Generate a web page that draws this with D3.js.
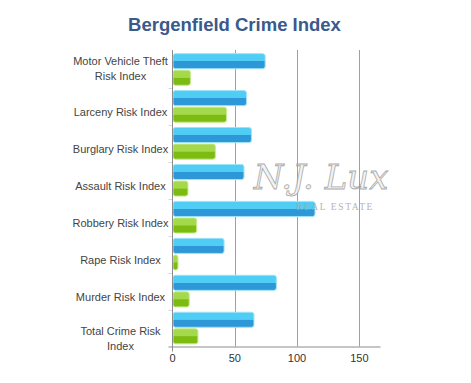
<!DOCTYPE html>
<html>
<head>
<meta charset="utf-8">
<script src="https://cdn.jsdelivr.net/npm/d3@7"></script>
<style>
  html, body { margin: 0; padding: 0; background: #fff; }
  svg { display: block; font-family: "Liberation Sans", Arial, sans-serif; }
</style>
</head>
<body>
<svg id="chart" width="471" height="383"></svg>
<script>
const title = "Bergenfield Crime Index";
const categories = [
  "Motor Vehicle Theft Risk Index",
  "Larceny Risk Index",
  "Burglary Risk Index",
  "Assault Risk Index",
  "Robbery Risk Index",
  "Rape Risk Index",
  "Murder Risk Index",
  "Total Crime Risk Index"
];
const seriesNames = ["Bergenfield", "National"];
const bergenfield = [74, 59, 63, 57, 114, 41, 83, 65];
const national = [14, 43, 34, 12, 19, 4, 13, 20];
const xTicks = [0, 50, 100, 150];
const xMax = 167;

const svg = d3.select("#chart");
const plot = { left: 172.5, right: 380.5, top: 51, bottom: 346.5 };

const x = d3.scaleLinear().domain([0, xMax]).range([plot.left, plot.right]);
const y = d3.scaleBand().domain(categories).range([plot.top, plot.bottom]);
const sub = d3.scaleBand().domain(seriesNames).range([0, y.bandwidth()])
  .paddingInner(0.09).paddingOuter(0.16);

// gradients
const defs = svg.append("defs");
function grad(id, top, bottom) {
  const g = defs.append("linearGradient").attr("id", id)
    .attr("x1", 0).attr("y1", 0).attr("x2", 0).attr("y2", 1);
  g.append("stop").attr("offset", "0%").attr("stop-color", top);
  g.append("stop").attr("offset", "48%").attr("stop-color", top);
  g.append("stop").attr("offset", "52%").attr("stop-color", bottom);
  g.append("stop").attr("offset", "100%").attr("stop-color", bottom);
}
grad("gBlue", "#50cdf4", "#2e97d8");
grad("gGreen", "#a5d94c", "#7cbb10");

// title
svg.append("text")
  .attr("x", 234.5).attr("y", 30.5)
  .attr("text-anchor", "middle")
  .attr("font-size", 18.5).attr("font-weight", "bold")
  .attr("fill", "#3a5a8b")
  .text(title);

// gridlines
svg.append("g").selectAll("line").data(xTicks.filter(d => d > 0)).join("line")
  .attr("x1", d => Math.round(x(d)) + 0.5).attr("x2", d => Math.round(x(d)) + 0.5)
  .attr("y1", plot.top - 1).attr("y2", plot.bottom)
  .attr("stroke", "#a0a0a0").attr("stroke-width", 1);

// y-axis small ticks at band boundaries
svg.append("g").selectAll("line").data(categories.slice(1)).join("line")
  .attr("x1", plot.left - 4).attr("x2", plot.left)
  .attr("y1", d => Math.round(y(d)) + 0.5).attr("y2", d => Math.round(y(d)) + 0.5)
  .attr("stroke", "#d8d8d8");

// bars
const series = [
  { name: seriesNames[0], values: bergenfield, fill: "url(#gBlue)", stroke: "#9fe3f9" },
  { name: seriesNames[1], values: national, fill: "url(#gGreen)", stroke: "#c6ea8c" }
];
const groups = svg.append("g").selectAll("g").data(categories).join("g")
  .attr("transform", d => `translate(0,${y(d)})`);
series.forEach(s => {
  groups.append("rect")
    .attr("x", x(0) + 0.5)
    .attr("y", (d, i) => sub(s.name))
    .attr("width", (d, i) => Math.max(0, x(s.values[i]) - x(0)))
    .attr("height", sub.bandwidth())
    .attr("rx", 2.5).attr("ry", 2.5)
    .attr("fill", s.fill)
    .attr("stroke", s.stroke).attr("stroke-width", 1);
});

// axes lines
svg.append("line")
  .attr("x1", plot.left).attr("x2", plot.left)
  .attr("y1", plot.top - 1).attr("y2", plot.bottom + 5)
  .attr("stroke", "#8c8c8c");
svg.append("line")
  .attr("x1", plot.left - 4).attr("x2", plot.right)
  .attr("y1", plot.bottom + 0.5).attr("y2", plot.bottom + 0.5)
  .attr("stroke", "#8c8c8c");

// x tick labels
svg.append("g").selectAll("text").data(xTicks).join("text")
  .attr("x", d => x(d)).attr("y", plot.bottom + 15)
  .attr("text-anchor", "middle")
  .attr("font-size", 11).attr("fill", "#333")
  .text(d => d);

// category labels with wrapping
const labelG = svg.append("g");
categories.forEach((c, i) => {
  const t = labelG.append("text")
    .attr("text-anchor", "middle")
    .attr("font-size", 11).attr("fill", "#444");
  const words = c.split(" ");
  const lines = [];
  let cur = [];
  const probe = t.append("tspan");
  words.forEach(w => {
    const trial = cur.concat([w]).join(" ");
    probe.text(trial);
    if (probe.node().getComputedTextLength() > 100 && cur.length) {
      lines.push(cur.join(" "));
      cur = [w];
    } else cur.push(w);
  });
  lines.push(cur.join(" "));
  probe.remove();
  const bc = y(c) + y.bandwidth() / 2;
  let first;
  if (lines.length === 1) first = bc + 9.5;
  else first = (i === 0) ? bc - 4.5 : bc + 7;
  lines.forEach((ln, k) => {
    t.append("tspan").attr("x", 120.5).attr("y", first + k * 15.2).text(ln);
  });
});

// watermark
const wm = svg.append("g").attr("opacity", 0.85);
wm.append("text")
  .attr("x", 321).attr("y", 189)
  .attr("text-anchor", "middle")
  .attr("font-family", "'DejaVu Serif', 'Liberation Serif', serif")
  .attr("font-style", "italic")
  .attr("font-size", 34)
  .attr("fill", "#f2f2f2")
  .attr("stroke", "#9a9a9a").attr("stroke-width", 0.8)
  .text("N.J. Lux");
wm.append("text")
  .attr("x", 335).attr("y", 210)
  .attr("text-anchor", "middle")
  .attr("font-family", "'Liberation Serif', serif")
  .attr("font-size", 9.5)
  .attr("letter-spacing", 1.6)
  .attr("fill", "#a8a8a8")
  .text("REAL ESTATE");
</script>
</body>
</html>
